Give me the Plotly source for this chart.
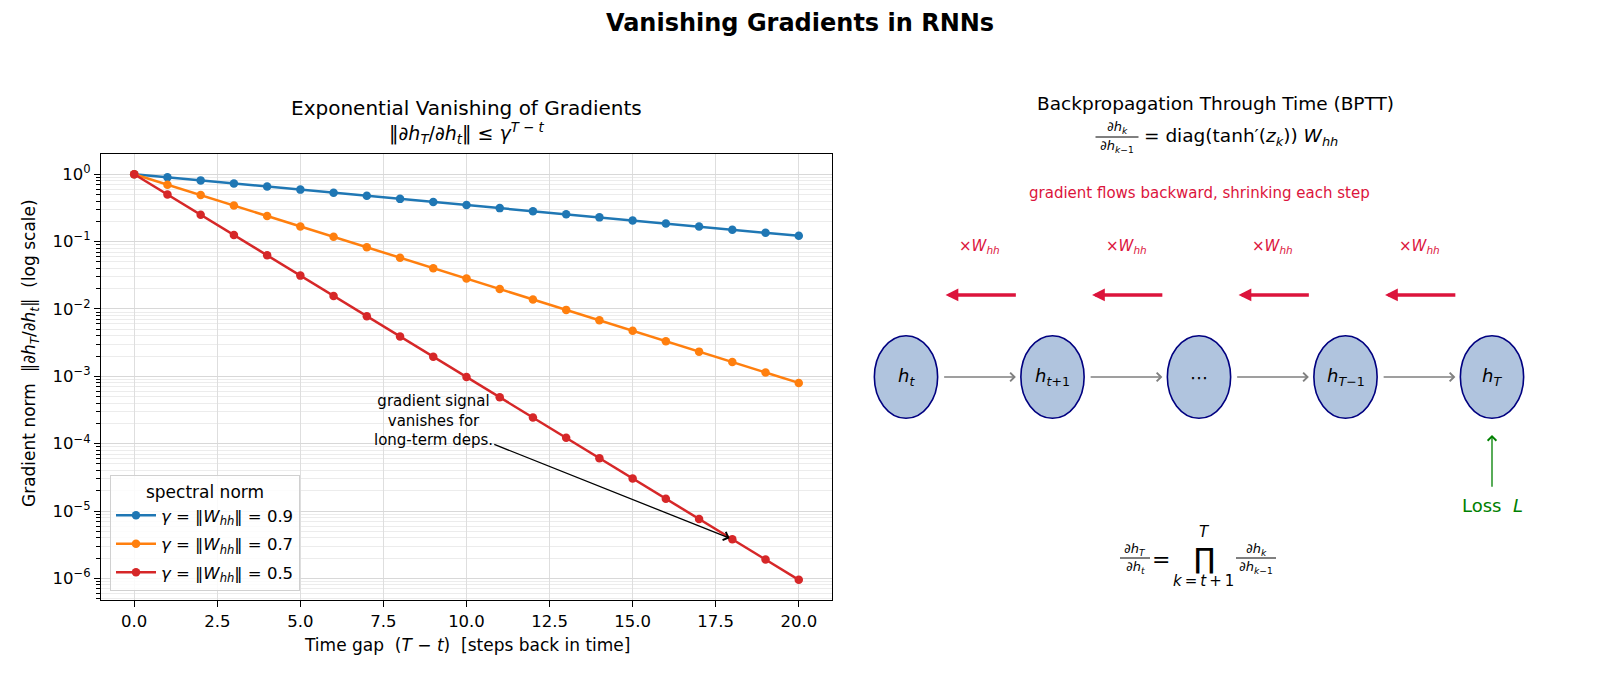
import plotly.graph_objects as go

# ---------------- data ----------------
steps = [0, 1, 2, 3, 4, 5, 6, 7, 8, 9, 10, 11, 12, 13, 14, 15, 16, 17, 18, 19, 20]
grad_09 = [1.0, 0.9, 0.81, 0.729, 0.6561, 0.5905, 0.5314, 0.4783, 0.4305, 0.3874, 0.3487,
           0.3138, 0.2824, 0.2542, 0.2288, 0.2059, 0.1853, 0.1668, 0.1501, 0.1351, 0.1216]
grad_07 = [1.0, 0.7, 0.49, 0.343, 0.2401, 0.1681, 0.1176, 0.08235, 0.05765, 0.04035, 0.02825,
           0.01977, 0.01384, 0.009689, 0.006782, 0.004748, 0.003323, 0.002326, 0.001628, 0.00114, 0.000798]
grad_05 = [1.0, 0.5, 0.25, 0.125, 0.0625, 0.03125, 0.01563, 0.007813, 0.003906, 0.001953, 0.0009766,
           0.0004883, 0.0002441, 0.0001221, 6.104e-05, 3.052e-05, 1.526e-05, 7.629e-06, 3.815e-06,
           1.907e-06, 9.537e-07]
gamma_labels = ["0.9", "0.7", "0.5"]
series_colors = ["#1f77b4", "#ff7f0e", "#d62728"]

x_tick_vals = [0, 2.5, 5, 7.5, 10, 12.5, 15, 17.5, 20]
x_tick_text = ["0.0", "2.5", "5.0", "7.5", "10.0", "12.5", "15.0", "17.5", "20.0"]
y_tick_vals = [1, 1e-1, 1e-2, 1e-3, 1e-4, 1e-5, 1e-6]
y_tick_text = ["10<sup>0</sup>", "10<sup>−1</sup>", "10<sup>−2</sup>", "10<sup>−3</sup>",
               "10<sup>−4</sup>", "10<sup>−5</sup>", "10<sup>−6</sup>"]

node_pos = [0, 1, 2, 3, 4]
node_labels = ["<i>h</i><sub><i>t</i></sub>", "<i>h</i><sub><i>t</i>+1</sub>", "⋯",
               "<i>h</i><sub><i>T</i>−1</sub>", "<i>h</i><sub><i>T</i></sub>"]

FONT = "DejaVu Sans"
W, H = 1600, 677
CRIMSON = "#dc143c"


def px(x):
    return x / W


def py(y):
    return 1 - y / H


fig = go.Figure()

for vals, g, c in zip([grad_09, grad_07, grad_05], gamma_labels, series_colors):
    fig.add_trace(go.Scatter(
        x=steps, y=vals, mode="lines+markers",
        name="<i>γ</i> = ‖<i>W</i><sub><i>hh</i></sub>‖ = " + g,
        legendgroup=g,
        line=dict(color=c, width=2.5),
        marker=dict(color=c, size=8.5),
        xaxis="x", yaxis="y",
    ))

minor_vals = []
for d in range(-7, 1):
    for m in range(2, 10):
        v = m * 10 ** d
        if 10 ** -6.32 <= v <= 10 ** 0.30:
            minor_vals.append(v)

annotations = []
shapes = []


def ptext(text, x, y, size, xanchor="center", color="black", **kw):
    annotations.append(dict(text=text, x=px(x), y=py(y), xref="paper", yref="paper",
                            xanchor=xanchor, yanchor="middle", showarrow=False,
                            font=dict(size=size, color=color), **kw))


# left subplot titles
ptext("Exponential Vanishing of Gradients", 466, 108, 20)
ptext("‖∂<i>h</i><sub><i>T</i></sub>/∂<i>h</i><sub><i>t</i></sub>‖ ≤ <i>γ</i><sup><i>T</i> − <i>t</i></sup>",
      466, 134, 19)
# axis titles
ptext("Gradient norm\u00a0\u00a0‖∂<i>h</i><sub><i>T</i></sub>/∂<i>h</i><sub><i>t</i></sub>‖\u00a0\u00a0(log scale)",
      30, 353, 17, textangle=-90)
ptext("Time gap\u00a0\u00a0(<i>T</i> − <i>t</i>)\u00a0\u00a0[steps back in time]", 467, 645, 17)

# annotation arrow in left plot
annotations.append(dict(text="gradient signal<br>vanishes for<br>long-term deps.",
                        x=steps[18], y=-5.4185, xref="x", yref="y",
                        ax=9, ay=-3.65, axref="x", ayref="y",
                        xanchor="center", yanchor="middle",
                        showarrow=True, arrowhead=4, arrowsize=1.3, arrowwidth=1.3, arrowcolor="black",
                        standoff=3, font=dict(size=15), align="center"))

# right panel titles
ptext("Backpropagation Through Time (BPTT)", 1215, 104, 18.5)


def frac(xc, y_num, y_den, y_line, half_w, num, den, size):
    ptext(num, xc, y_num, size)
    ptext(den, xc, y_den, size)
    shapes.append(dict(type="line", xref="paper", yref="paper", x0=px(xc - half_w), x1=px(xc + half_w),
                       y0=py(y_line), y1=py(y_line), line=dict(color="black", width=1)))


frac(1117, 127, 146, 137, 21.5, "∂<i>h</i><sub><i>k</i></sub>", "∂<i>h</i><sub><i>k</i>−1</sub>", 13)
ptext("= diag(tanh′(<i>z</i><sub><i>k</i></sub>)) <i>W</i><sub><i>hh</i></sub>", 1142, 137, 18.5,
      xanchor="left")

# bottom formula
frac(1135, 549, 567, 558, 15, "∂<i>h</i><sub><i>T</i></sub>", "∂<i>h</i><sub><i>t</i></sub>", 13)
ptext("=", 1161, 559, 22)
ptext("∏", 1204, 558, 28)
ptext("<i>T</i>", 1204, 532, 15)
ptext("<i>k</i>\u2009=\u2009<i>t</i>\u2009+\u20091", 1203, 581, 15)
frac(1256, 549, 567, 558, 20, "∂<i>h</i><sub><i>k</i></sub>", "∂<i>h</i><sub><i>k</i>−1</sub>", 13)

# diagram (x2 / y2 axes, node units)
R = dict(xref="x2", yref="y2", xanchor="center", yanchor="middle")
annotations.append(dict(text="gradient flows backward, shrinking each step", x=2.0, y=1.256,
                        showarrow=False, font=dict(size=15, color=CRIMSON), **R))
EW, EH = 0.216, 0.282
for i, lab in zip(node_pos, node_labels):
    shapes.append(dict(type="circle", x0=i - EW, x1=i + EW, y0=-EH, y1=EH, xref="x2", yref="y2",
                       line=dict(color="#000080", width=1.6), fillcolor="#b0c4de"))
    annotations.append(dict(text=lab, x=i, y=0, showarrow=False, font=dict(size=18), **R))
for i in node_pos[:-1]:
    # forward gray arrows
    annotations.append(dict(text="", x=i + 0.75, y=0, ax=i + 0.25, ay=0, axref="x2", ayref="y2",
                            showarrow=True, arrowhead=4, arrowsize=1.3, arrowwidth=1.3,
                            arrowcolor="gray", **R))
    # backward red arrows
    annotations.append(dict(text="", x=i + 0.27, y=0.56, ax=i + 0.76, ay=0.56, axref="x2", ayref="y2",
                            showarrow=True, arrowhead=2, arrowsize=0.75, arrowwidth=3.4,
                            arrowcolor=CRIMSON, **R))
    annotations.append(dict(text="×<i>W</i><sub><i>hh</i></sub>", x=i + 0.505, y=0.894, showarrow=False,
                            font=dict(size=15, color=CRIMSON), **R))
# loss arrow
annotations.append(dict(text="", x=node_pos[-1], y=-0.396, ax=node_pos[-1], ay=-0.76, axref="x2", ayref="y2",
                        showarrow=True, arrowhead=4, arrowsize=1.3, arrowwidth=1.3, arrowcolor="green", **R))
annotations.append(dict(text="Loss\u00a0\u00a0<i>L</i>", x=node_pos[-1], y=-0.88, showarrow=False,
                        font=dict(size=18, color="green"), **R))

x2_lo, x2_hi = (848 - 906) / 146.5, (1600 - 906) / 146.5
y2_lo, y2_hi = (377 - 677) / 146.5, 377 / 146.5

fig.update_layout(
    width=W, height=H, autosize=False,
    margin=dict(l=0, r=0, t=0, b=0),
    paper_bgcolor="white", plot_bgcolor="white",
    font=dict(family=FONT, size=17, color="black"),
    title=dict(text="<b>Vanishing Gradients in RNNs</b>", x=0.5, xanchor="center",
               y=py(23), yanchor="middle", font=dict(size=24, family=FONT)),
    xaxis=dict(domain=[px(101), px(832)], range=[-1, 21], anchor="y",
               tickmode="array", tickvals=x_tick_vals, ticktext=x_tick_text,
               ticks="outside", ticklen=6, tickwidth=1.3, tickcolor="black",
               showline=True, linecolor="black", linewidth=1.3, mirror=True,
               showgrid=True, gridcolor="#dedede", gridwidth=1, zeroline=False,
               tickfont=dict(size=16.5)),
    yaxis=dict(domain=[py(600), py(154)], type="log", range=[-6.32, 0.30], anchor="x",
               tickmode="array", tickvals=y_tick_vals, ticktext=y_tick_text,
               ticks="outside", ticklen=6, tickwidth=1.3, tickcolor="black",
               showline=True, linecolor="black", linewidth=1.3, mirror=True,
               showgrid=True, gridcolor="#d8d8d8", gridwidth=1, zeroline=False,
               tickfont=dict(size=16.5),
               minor=dict(tickmode="array", tickvals=minor_vals, ticks="outside", ticklen=3.5,
                          tickwidth=1, tickcolor="black", showgrid=True, gridcolor="#ececec", gridwidth=1)),
    xaxis2=dict(domain=[px(848), 1], range=[x2_lo, x2_hi], anchor="y2", visible=False),
    yaxis2=dict(domain=[0, 1], range=[y2_lo, y2_hi], anchor="x2", visible=False),
    legend=dict(x=px(110), y=py(591), xanchor="left", yanchor="bottom", xref="paper", yref="paper",
                bgcolor="rgba(255,255,255,0.85)", bordercolor="#d0d0d0", borderwidth=1,
                font=dict(size=16.5), tracegroupgap=4, itemwidth=40,
                title=dict(text="spectral norm", side="top center", font=dict(size=17))),
    annotations=annotations,
    shapes=shapes,
    showlegend=True,
)

fig.write_html("out.html")
